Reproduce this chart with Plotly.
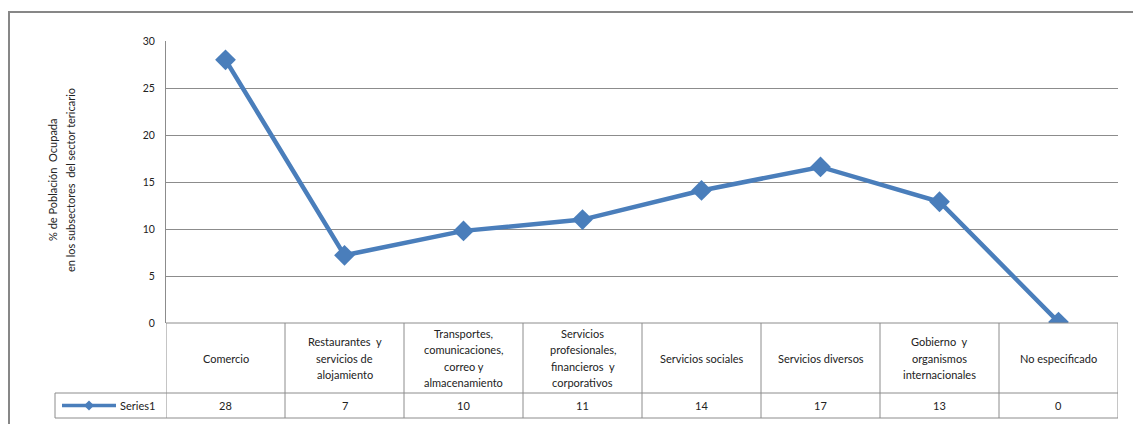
import plotly.graph_objects as go

W, H = 1133, 424

# Share of employed population by tertiary subsector (%)
categories = [
    "Comercio",
    "Restaurantes  y\nservicios de\nalojamiento",
    "Transportes,\ncomunicaciones,\ncorreo y\nalmacenamiento",
    "Servicios\nprofesionales,\nfinancieros  y\ncorporativos",
    "Servicios sociales",
    "Servicios diversos",
    "Gobierno  y\norganismos\ninternacionales",
    "No especificado",
]
values = [28.0, 7.2, 9.8, 11.0, 14.1, 16.6, 12.9, 0.1]
series_name = "Series1"
y_ticks = [0, 5, 10, 15, 20, 25, 30]
y_title_lines = ["% de Población  Ocupada", "en los subsectores  del sector tericario"]

LINE_BLUE = "#4a7ebb"
GRID = "#8c8c8c"
TEXT = "#222222"
FONT = "Lato"
FS = 11

# pixel helpers -> paper coordinates
def px(x):
    return x / W

def py(y):
    return 1 - y / H

PLOT_L, PLOT_R, PLOT_T, PLOT_B = 166, 1118, 41, 323
ROW1_B, ROW2_B, LEG_L = 393, 418, 55
LINE_GAP = 16.5

n = len(categories)
xs = [i + 0.5 for i in range(n)]

fig = go.Figure()
fig.add_trace(go.Scatter(
    x=xs, y=values, mode="lines+markers",
    line=dict(color=LINE_BLUE, width=4.5),
    marker=dict(symbol="diamond", size=16, color=LINE_BLUE),
    showlegend=False, hoverinfo="skip",
))

shapes = []
# outer chart frame
shapes.append(dict(type="rect", xref="paper", yref="paper",
                   x0=px(9), x1=px(1145), y0=py(12), y1=py(440),
                   line=dict(color="#878787", width=2), layer="below"))

# data table grid
tbl_line = dict(color=GRID, width=1)
for i in range(n + 1):
    shapes.append(dict(type="line", xref="x", yref="paper",
                       x0=i, x1=i, y0=py(PLOT_B), y1=py(ROW2_B), line=tbl_line))
shapes.append(dict(type="line", xref="paper", yref="paper",
                   x0=px(PLOT_L), x1=px(PLOT_R), y0=py(PLOT_B), y1=py(PLOT_B), line=tbl_line))
for yy in (ROW1_B, ROW2_B):
    shapes.append(dict(type="line", xref="paper", yref="paper",
                       x0=px(LEG_L), x1=px(PLOT_R), y0=py(yy), y1=py(yy), line=tbl_line))
shapes.append(dict(type="line", xref="paper", yref="paper",
                   x0=px(LEG_L), x1=px(LEG_L), y0=py(ROW1_B), y1=py(ROW2_B), line=tbl_line))

# legend key inside the table
key_y = (ROW1_B + ROW2_B) / 2
shapes.append(dict(type="line", xref="paper", yref="paper",
                   x0=px(62), x1=px(116), y0=py(key_y), y1=py(key_y),
                   line=dict(color=LINE_BLUE, width=3.5)))
shapes.append(dict(type="path", xref="paper", yref="paper",
                   path=f"M {px(89-5)},{py(key_y)} L {px(89)},{py(key_y-5)} L {px(89+5)},{py(key_y)} L {px(89)},{py(key_y+5)} Z",
                   fillcolor=LINE_BLUE, line=dict(color=LINE_BLUE, width=0)))

annotations = []
font = dict(family=FONT, size=FS, color=TEXT)
mid_row1 = (PLOT_B + ROW1_B) / 2
mid_row2 = (ROW1_B + ROW2_B) / 2
common = dict(showarrow=False, font=font, yanchor="middle")
for x, cat, v in zip(xs, categories, values):
    lines = cat.split("\n")
    k = len(lines)
    for j, ln in enumerate(lines):
        yy = mid_row1 + (j - (k - 1) / 2) * LINE_GAP
        annotations.append(dict(x=x, y=py(yy), xref="x", yref="paper",
                                text=ln, xanchor="center", **common))
    annotations.append(dict(x=x, y=py(mid_row2), xref="x", yref="paper",
                            text=f"{v:.0f}", xanchor="center", **common))
annotations.append(dict(x=px(118), y=py(mid_row2), xref="paper", yref="paper",
                        text=series_name, xanchor="left", **common))
for xx, ln in zip((52, 70), y_title_lines):
    annotations.append(dict(x=px(xx), y=py(180), xref="paper", yref="paper",
                            text=ln, textangle=-90, xanchor="center", **common))

fig.update_layout(
    width=W, height=H,
    margin=dict(l=0, r=0, t=0, b=0, pad=0, autoexpand=False),
    paper_bgcolor="white", plot_bgcolor="white",
    xaxis=dict(domain=[px(PLOT_L), px(PLOT_R)], range=[0, n], automargin=False,
               showgrid=False, zeroline=False, showticklabels=False,
               showline=False, fixedrange=True),
    yaxis=dict(domain=[py(PLOT_B), py(PLOT_T)], range=[0, 30], automargin=False,
               tickvals=y_ticks, showgrid=True, gridcolor=GRID, gridwidth=1,
               zeroline=False, showline=True, linecolor=GRID, linewidth=1,
               ticks="", ticklabelstandoff=8,
               tickfont=dict(family=FONT, size=10.5, color=TEXT), fixedrange=True),
    shapes=shapes,
    annotations=annotations,
)

fig.write_html("out.html")
